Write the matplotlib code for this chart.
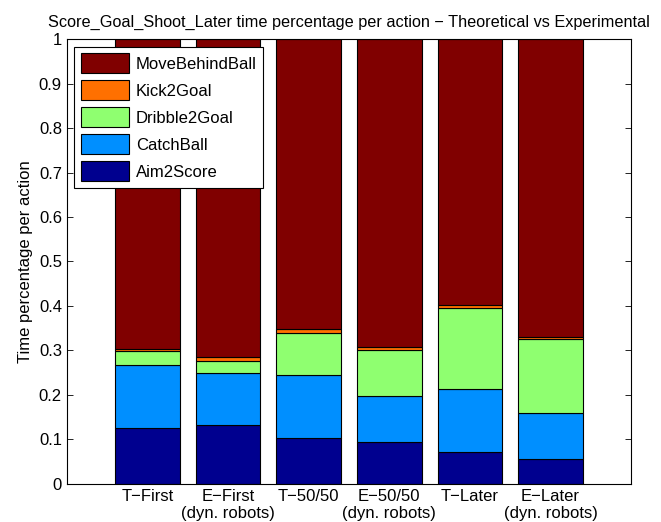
import numpy as np
import matplotlib
matplotlib.use("Agg")
import matplotlib.pyplot as plt

plt.rcParams['font.family'] = ['Liberation Sans', 'DejaVu Sans']

scenarios = ["T\u2212First", "E\u2212First\n(dyn. robots)", "T\u221250/50",
             "E\u221250/50\n(dyn. robots)", "T\u2212Later", "E\u2212Later\n(dyn. robots)"]

# share of time spent in each action, bottom to top
aim2score = [0.125, 0.132, 0.102, 0.093, 0.072, 0.055]
catchball = [0.1425, 0.116, 0.142, 0.104, 0.142, 0.104]
dribble2goal = [0.030, 0.028, 0.095, 0.104, 0.181, 0.166]
kick2goal = [0.0065, 0.008, 0.008, 0.007, 0.0074, 0.006]
move_behind_ball = [1 - a - c - d - k for a, c, d, k in
                    zip(aim2score, catchball, dribble2goal, kick2goal)]

actions = ["Aim2Score", "CatchBall", "Dribble2Goal", "Kick2Goal", "MoveBehindBall"]
series = [aim2score, catchball, dribble2goal, kick2goal, move_behind_ball]
colors = ["#00008f", "#008fff", "#8fff70", "#ff7000", "#800000"]

fs = 12

fig = plt.figure(figsize=(6.61, 5.22), dpi=100)
ax = fig.add_axes([0.101, 0.0734, 0.854, 0.8516])

x = np.arange(1, len(scenarios) + 1)
bottom = np.zeros(len(scenarios))
handles = []
for name, vals, col in zip(actions, series, colors):
    vals = np.array(vals)
    b = ax.bar(x, vals, width=0.8, bottom=bottom, color=col,
               edgecolor="black", linewidth=0.8, label=name)
    handles.append(b)
    bottom += vals

ax.set_xlim(0, 7)
ax.set_ylim(0, 1)
ax.set_xticks(x)
ax.set_xticklabels(scenarios, fontsize=fs)
ax.set_yticks(np.arange(0, 1.01, 0.1))
ax.set_yticklabels(["0", "0.1", "0.2", "0.3", "0.4", "0.5", "0.6", "0.7",
                    "0.8", "0.9", "1"], fontsize=fs)
ax.tick_params(direction="in", top=True, right=True, length=4, width=0.6)
ax.tick_params(axis="x", length=0)
for sp in ax.spines.values():
    sp.set_linewidth(0.8)

ax.set_ylabel("Time percentage per action", fontsize=fs)
ax.set_title("Score_Goal_Shoot_Later time percentage per action \u2212 Theoretical vs Experimental",
             fontsize=11.7, pad=9)

leg = ax.legend(handles[::-1], actions[::-1], loc="upper left",
                bbox_to_anchor=(0.0, 1.0), fontsize=fs, fancybox=False,
                edgecolor="black", framealpha=1, handlelength=2.9,
                handleheight=1.47, labelspacing=0.42, borderpad=0.4,
                handletextpad=0.4, borderaxespad=0.45)
leg.get_frame().set_linewidth(0.8)

fig.savefig("out.png", dpi=100)
